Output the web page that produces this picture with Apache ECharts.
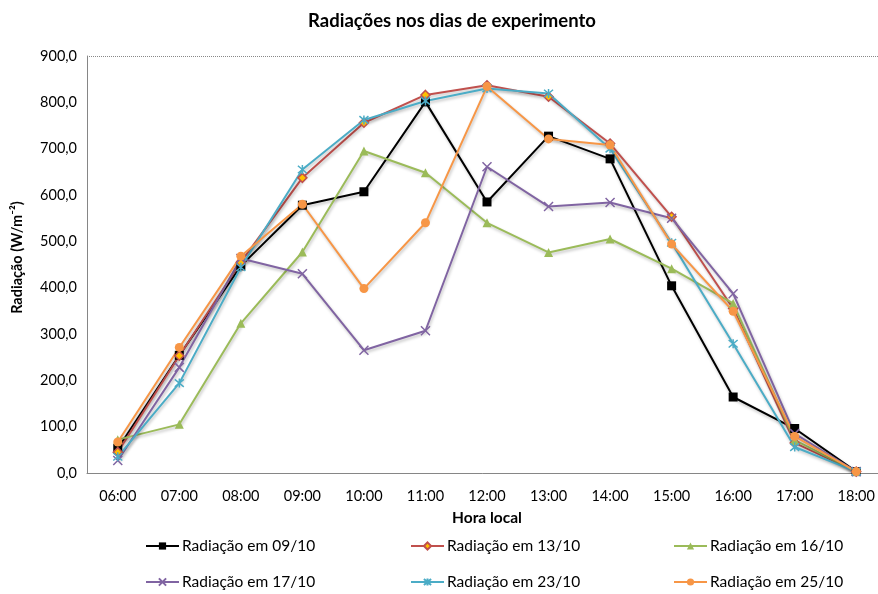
<!DOCTYPE html>
<html><head><meta charset="utf-8">
<script src="https://cdn.jsdelivr.net/npm/echarts@6/dist/echarts.min.js"></script>
<style>html,body{margin:0;padding:0;background:#fff}#c{width:878px;height:594px}</style>
</head><body><div id="c"></div>
<script>
var categories = ['06:00','07:00','08:00','09:00','10:00','11:00','12:00','13:00','14:00','15:00','16:00','17:00','18:00'];
var yTicks = [0, 900, 100];
var r0910 = [53, 254, 447, 578, 607, 801, 585, 727, 678, 404, 164, 96, 3];
var r1310 = [45, 253, 455, 637, 756, 816, 837, 812, 711, 553, 355, 65, 3];
var r1610 = [72, 105, 323, 477, 695, 648, 540, 476, 505, 441, 366, 71, 3];
var r1710 = [27, 228, 463, 430, 265, 307, 661, 575, 584, 550, 387, 85, 3];
var r2310 = [35, 194, 444, 655, 762, 803, 830, 819, 700, 497, 279, 56, 3];
var r2510 = [67, 271, 468, 580, 398, 540, 834, 721, 708, 494, 349, 79, 3];
var names = ['Radiação em 09/10','Radiação em 13/10','Radiação em 16/10','Radiação em 17/10','Radiação em 23/10','Radiação em 25/10'];

var FONT = 'Lato, "Open Sans", sans-serif';
var shadow = {shadowBlur: 3, shadowColor: 'rgba(0,0,0,0.25)', shadowOffsetX: 1, shadowOffsetY: 2};
function ser(name, data, color, symbol, size, item) {
  return {
    name: name, type: 'line', data: data, symbol: symbol, symbolSize: size,
    showAllSymbol: true,
    lineStyle: Object.assign({color: color, width: 2}, shadow),
    itemStyle: item || {color: color},
    z: 3
  };
}
var xPath = 'path://M0,0L10,10M0,10L10,0';
var starPath = 'path://M0,0L10,10M0,10L10,0M5,-1L5,11';
var series = [
  ser(names[0], r0910, '#000000', 'rect', 9),
  ser(names[1], r1310, '#C0504D', 'diamond', 9, {color: '#FFC000', borderColor: '#C0504D', borderWidth: 1.5}),
  ser(names[2], r1610, '#9BBB59', 'triangle', 9),
  ser(names[3], r1710, '#8064A2', xPath, 9, {color: 'none', borderColor: '#8064A2', borderWidth: 1.5}),
  ser(names[4], r2310, '#4BACC6', starPath, 9, {color: 'none', borderColor: '#4BACC6', borderWidth: 1.5}),
  ser(names[5], r2510, '#F79646', 'circle', 9)
];
series[0].markLine = {silent: true, symbol: 'none', label: {show: false},
  lineStyle: {type: 'dotted', color: '#888', width: 1, shadowBlur: 0, shadowOffsetX: 0, shadowOffsetY: 0},
  data: [{yAxis: yTicks[1]}]};

function legendItem(left, top, name) {
  return {orient: 'horizontal', left: left, top: top, padding: 0, itemWidth: 33, itemHeight: 9,
    data: [name], textStyle: {fontFamily: FONT, fontSize: 15.5, color: '#000', padding: [0, 0, 0, -2]}};
}

var chart = echarts.init(document.getElementById('c'), null, {renderer: 'canvas'});
chart.setOption({
  animation: false,
  title: {text: 'Radiações nos dias de experimento', left: 447, top: 7, textAlign: 'center',
    textStyle: {fontFamily: FONT, fontSize: 18.5, fontWeight: 'bold', color: '#000'}},
  grid: {left: 87, width: 800, top: 56, bottom: 121, containLabel: false, outerBoundsMode: 'none'},
  legend: [
    legendItem(145, 538, names[0]), legendItem(410, 538, names[1]), legendItem(673, 538, names[2]),
    legendItem(145, 574, names[3]), legendItem(410, 574, names[4]), legendItem(673, 574, names[5])
  ],
  xAxis: {type: 'category', data: categories, boundaryGap: true,
    name: 'Hora local', nameLocation: 'middle', nameGap: 37,
    nameTextStyle: {fontFamily: FONT, fontSize: 15.5, fontWeight: 'bold', color: '#000'},
    axisLine: {lineStyle: {color: '#868686', width: 1}}, axisTick: {show: false},
    axisLabel: {fontFamily: FONT, fontSize: 14.5, color: '#000', margin: 16}},
  yAxis: {type: 'value', min: yTicks[0], max: yTicks[1], interval: yTicks[2],
    name: 'Radiação (W/m⁻²)', nameLocation: 'middle', nameGap: 62, nameRotate: 90,
    nameTextStyle: {fontFamily: FONT, fontSize: 14.5, fontWeight: 'bold', color: '#000', padding: [0, 0, 0, 14]},
    axisLine: {show: true, lineStyle: {color: '#868686', width: 1}}, axisTick: {show: false},
    splitLine: {show: false},
    axisLabel: {fontFamily: FONT, fontSize: 14.5, color: '#000', margin: 10,
      formatter: function (v) { return v.toFixed(1).replace('.', ','); }}},
  series: series
});
</script></body></html>
